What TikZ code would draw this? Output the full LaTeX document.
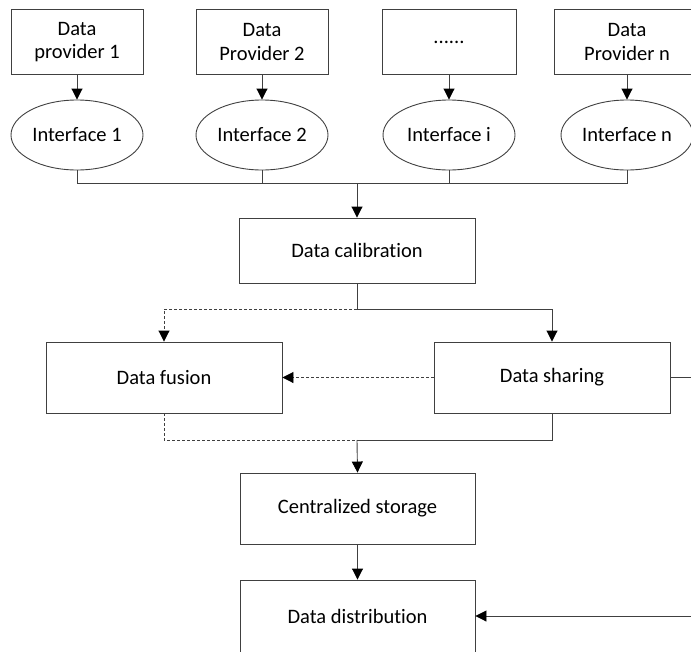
\documentclass[tikz,border=0pt]{standalone}
\usepackage{fontspec}
\setmainfont{Carlito}[Ligatures={NoCommon}]
\usetikzlibrary{arrows.meta,shapes.geometric}
\definecolor{linegray}{HTML}{404040}
\tikzset{
  box/.style={draw=linegray, line width=0.9pt, rectangle, inner sep=0pt, align=center,
    font=\fontsize{20.5}{23.5}\selectfont},
  iface/.style={draw=linegray, line width=0.9pt, ellipse, inner sep=0pt,
    minimum width=132pt, minimum height=70pt, font=\fontsize{20.5}{23.5}\selectfont},
  conn/.style={draw=linegray, line width=0.9pt},
  arr/.style={conn, -{Triangle[length=11pt,width=11pt,fill=black,color=black]}},
  dsh/.style={dash pattern=on 3pt off 2pt},
}
\begin{document}
\begin{tikzpicture}[x=1pt,y=-1pt]
\useasboundingbox (0,0) rectangle (691,651);
% top providers
\node[box, minimum width=132pt, minimum height=65pt] (p1) at (77,42) {Data\\provider 1};
\node[box, minimum width=132pt, minimum height=65pt] (p2) at (262,42) {Data\\Provider 2};
\node[box, minimum width=134pt, minimum height=65pt] (p3) at (449,42) {......};
\node[box, minimum width=146pt, minimum height=65pt] (p4) at (627,42) {Data\\Provider n};
% interfaces
\node[iface] (i1) at (77,135) {Interface 1};
\node[iface] (i2) at (262,135) {Interface 2};
\node[iface] (i3) at (449,135) {Interface i};
\node[iface] (i4) at (627,135) {Interface n};
% main boxes
\node[box, minimum width=236pt, minimum height=65pt] (cal) at (357,250.5) {Data calibration};
\node[box, minimum width=236pt, minimum height=71pt] (fus) at (164,377.5) {Data fusion};
\node[box, minimum width=236pt, minimum height=71pt] (sha) at (552,377.5) {Data sharing};
\node[box, minimum width=235pt, minimum height=71pt] (cen) at (357.5,508.5) {Centralized storage};
\node[box, minimum width=235pt, minimum height=72pt] (dis) at (357.5,616) {Data distribution};
% junctions
\coordinate (j1) at (357,183);
\coordinate (j2) at (357,309);
\coordinate (j3) at (357,440);
\coordinate (e1) at (693,377.5);
\coordinate (e2) at (693,616);
% providers to interfaces
\foreach \k in {1,2,3,4} {\draw[arr] (p\k.south) -- (i\k.north);}
% interfaces to bus
\draw[conn] (i1.south) |- (i4.south |- j1) -- (i4.south);
\draw[conn] (i2.south) -- (i2.south |- j1);
\draw[conn] (i3.south) -- (i3.south |- j1);
\draw[arr] (j1) -- (cal.north);
% calibration to fusion / sharing
\draw[conn] (cal.south) -- (j2);
\draw[arr] (j2) -| (sha.north);
\draw[arr, dsh] (j2) -| (fus.north);
% sharing to fusion
\draw[arr, dsh] (sha.west) -- (fus.east);
% to centralized storage
\draw[conn, dsh] (fus.south) |- (j3);
\draw[conn] (sha.south) |- (j3);
\draw[arr] (j3) -- (cen.north);
\draw[arr] (cen.south) -- (dis.north);
% right side
\draw[conn] (sha.east) -- (e1);
\draw[arr] (e2) -- (dis.east);
\end{tikzpicture}
\end{document}
